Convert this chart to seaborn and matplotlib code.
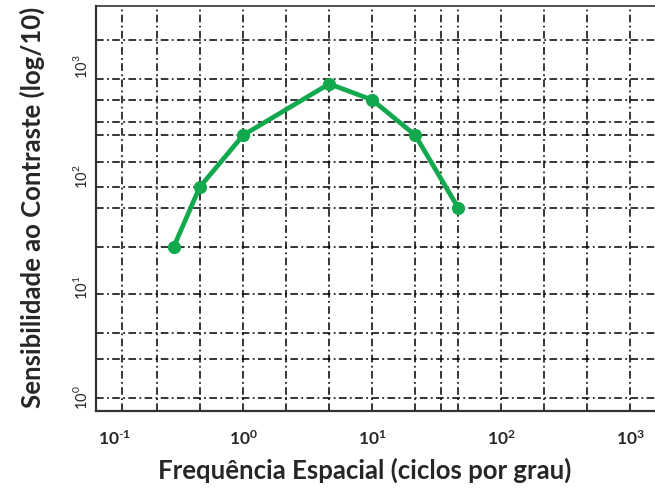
import matplotlib
matplotlib.use("Agg")
import matplotlib.pyplot as plt
import matplotlib.ticker as mticker
import numpy as np
import pandas as pd
import seaborn as sns

# Contrast sensitivity measurements
freq_cpd = [0.29, 0.46, 1.0, 4.64, 10.0, 21.5, 46.4]
sensitivity = [23.4, 81.0, 240.0, 700.0, 500.0, 240.0, 52.5]

# Decade ticks and grid positions
x_decades = [0.1, 1, 10, 100, 1000]
y_decades = [1, 10, 100, 1000]
x_grid = [0.115, 0.215, 0.464, 1, 2.15, 4.64, 10, 21.5, 34.3, 46.4,
          100, 215, 464, 1000]
y_grid = [1, 2.24, 3.9, 8.7, 23.4, 52.5, 81, 138, 240, 316, 500, 776, 1740]

x_tick_labels = [r"$\mathbf{10^{\text{-}1}}$", r"$\mathbf{10^{0}}$", r"$\mathbf{10^{1}}$",
                 r"$\mathbf{10^{2}}$", r"$\mathbf{10^{3}}$"]
y_tick_labels = [r"$10^{0}$", r"$10^{1}$", r"$10^{2}$", r"$10^{3}$"]

sns.set_style("white")
plt.rcParams["font.family"] = ["Lato", "DejaVu Sans"]
plt.rcParams["mathtext.fontset"] = "custom"
plt.rcParams["mathtext.rm"] = "Lato"
plt.rcParams["mathtext.bf"] = "Lato:bold"
plt.rcParams["axes.unicode_minus"] = False

df = pd.DataFrame({"freq": freq_cpd, "sens": sensitivity})

fig = plt.figure(figsize=(6.55, 4.9), dpi=100)
ax = fig.add_axes([96 / 655, 1 - 411 / 490, 1 - 96 / 655, (411 - 6) / 490])

ax.set_xscale("log")
ax.set_yscale("log")
ax.set_xlim(10 ** -1.14, 10 ** 3.19)
ax.set_ylim(10 ** -0.118, 10 ** 3.55)

sns.lineplot(data=df, x="freq", y="sens", ax=ax, color="#12a84e",
             linewidth=3.4, marker="o", markersize=9.5, markeredgewidth=0,
             zorder=5)

# Labelled decades (no grid on these)
ax.xaxis.set_major_locator(mticker.FixedLocator(x_decades))
ax.xaxis.set_major_formatter(mticker.FixedFormatter(x_tick_labels))
ax.yaxis.set_major_locator(mticker.FixedLocator(y_decades))
ax.yaxis.set_major_formatter(mticker.FixedFormatter(y_tick_labels))

# Dash-dot grid on its own set of positions (keep those that share a decade)
ax.xaxis.remove_overlapping_locs = False
ax.yaxis.remove_overlapping_locs = False
ax.xaxis.set_minor_locator(mticker.FixedLocator(x_grid))
ax.yaxis.set_minor_locator(mticker.FixedLocator(y_grid))
ax.xaxis.set_minor_formatter(mticker.NullFormatter())
ax.yaxis.set_minor_formatter(mticker.NullFormatter())
ax.grid(False, which="major")
ax.grid(True, which="minor", color="black", linewidth=1.1,
        linestyle=(0, (5, 2.2, 1.2, 2.2)))

ax.tick_params(which="both", length=0)
ax.tick_params(axis="x", which="major", pad=13, labelsize=12.5)
ax.tick_params(axis="y", which="major", pad=4, labelsize=10.5)
for lbl in ax.get_yticklabels():
    lbl.set_rotation(90)
    lbl.set_va("center")

for side in ["left", "bottom"]:
    ax.spines[side].set_color("#333333")
    ax.spines[side].set_linewidth(1.6)
ax.spines["top"].set_color("#333333")
ax.spines["top"].set_linewidth(1.2)
ax.spines["right"].set_visible(False)

ax.set_xlabel("Frequência Espacial (ciclos por grau)", fontsize=18.5,
              fontweight="bold")
ax.set_ylabel("Sensibilidade ao Contraste (log/10)", fontsize=18.5,
              fontweight="bold")
ax.xaxis.set_label_coords(0.481, -0.146)
ax.yaxis.set_label_coords(-0.1145, 0.504)
ax.xaxis.label.set_va("center")
ax.yaxis.label.set_va("center")

fig.savefig("out.png", dpi=100)
